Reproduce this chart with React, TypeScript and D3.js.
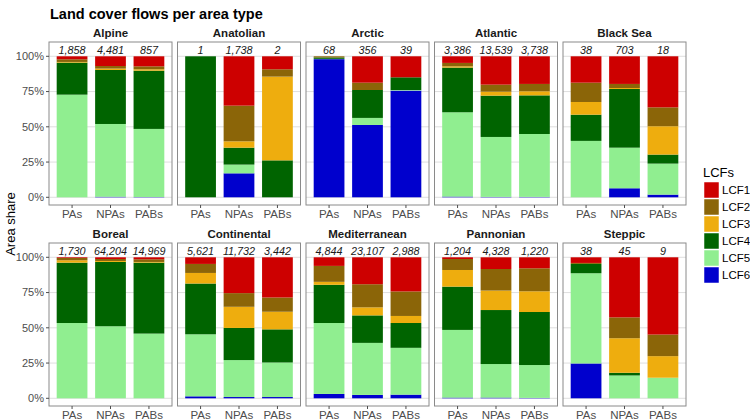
import React from "react";
import * as d3 from "d3";

const regions = ["Alpine", "Anatolian", "Arctic", "Atlantic", "Black Sea", "Boreal", "Continental", "Mediterranean", "Pannonian", "Steppic"];
const areaTypes = ["PAs", "NPAs", "PABs"];
const counts = [
  [1858, 4481, 857], [1, 1738, 2], [68, 356, 39], [3386, 13539, 3738], [38, 703, 18],
  [1730, 64204, 14969], [5621, 11732, 3442], [4844, 23107, 2988], [1204, 4328, 1220], [38, 45, 9],
];
const lcfNames = ["LCF1", "LCF2", "LCF3", "LCF4", "LCF5", "LCF6"];
const lcfColors = ["#CD0000", "#8B6508", "#EEAD0E", "#006400", "#90EE90", "#0000CD"];

// shares in percent, per region: [PAs, NPAs, PABs]
const lcf1 = [[2.1, 6.9, 7.1], [0, 35, 9.2], [0, 18.7, 14.9], [4.7, 20.1, 19.6], [18.7, 19.6, 36.2], [0.5, 1.2, 1.4], [4.7, 25.4, 28.5], [6.1, 19.1, 24.2], [1.2, 8.3, 7.8], [4.0, 42.6, 54.8]];
const lcf2 = [[1.9, 1.8, 2.1], [0, 25.3, 5.2], [0.8, 5.2, 0], [2.4, 5.0, 5.2], [13.7, 2.9, 13.4], [1.6, 1.4, 1.9], [6.4, 9.7, 10.1], [11.3, 16.4, 17.4], [7.8, 15.3, 16.3], [0.7, 14.8, 15.3]];
const lcf3 = [[0.5, 1.0, 1.0], [0, 4.5, 59.4], [0, 0, 0], [0.9, 2.8, 2.9], [9.0, 0.7, 20.1], [1.7, 0.7, 0.5], [7.5, 15.0, 12.5], [2.1, 5.7, 5.0], [11.8, 13.8, 14.7], [0, 24.5, 15.3]];
const lcf4 = [[22.7, 38.3, 41.3], [100, 12, 26.2], [1.0, 19.8, 9.0], [31.7, 29.3, 27.4], [18.6, 41.6, 6.4], [42.8, 45.6, 50.3], [36.0, 22.8, 23.5], [27.1, 19.5, 17.6], [30.7, 38.3, 37.6], [6.6, 1.9, 0]];
const lcf5 = [[72.8, 51.6, 48.3], [0, 6.2, 0], [0.2, 5.0, 0.4], [59.8, 42.5, 44.6], [40, 28.8, 22.0], [53.4, 51.1, 45.9], [44.0, 26.2, 24.5], [50.3, 36.9, 33.2], [48.0, 23.8, 23.3], [64.0, 16.2, 14.6]];
const lcf6 = [[0, 0.4, 0.2], [0, 17, 0], [98, 51.3, 75.7], [0.5, 0.3, 0.3], [0, 6.4, 1.9], [0, 0, 0], [1.4, 0.9, 0.9], [3.1, 2.4, 2.6], [0.5, 0.5, 0.3], [24.7, 0, 0]];
const yTicks = [0, 0.25, 0.5, 0.75, 1];

const series = [lcf1, lcf2, lcf3, lcf4, lcf5, lcf6];

const W = 750, H = 420;
const panelW = 123, panelH = 163;
const panelLeft0 = 49, colStep = 128.5;
const rowTops = [42, 243];
const font = "Liberation Sans, Arial, Helvetica, sans-serif";

export default function App() {
  const x = d3.scaleBand<string>().domain(areaTypes).range([0, panelW]).paddingInner(0.2).paddingOuter(0.2);
  const y = d3.scaleLinear().domain([0, 1]).range([panelH - 7.7, 14.3]);
  const stackKeys = [...lcfNames].reverse(); // LCF6 at the bottom
  const stack = d3.stack<any>().keys(stackKeys);
  const fmt = d3.format(",");
  const pct = d3.format(".0%");
  const colorOf = d3.scaleOrdinal<string, string>().domain(lcfNames).range(lcfColors);

  return (
    <svg width={W} height={H} style={{ display: "block", position: "absolute", left: 0, top: 0 }} fontFamily={font}>
      <rect width={W} height={H} fill="#fff" />
      <text x={50} y={19} fontSize={14.5} fontWeight="bold" fill="#000">Land cover flows per area type</text>
      <text transform={`translate(15,224) rotate(-90)`} textAnchor="middle" fontSize={13} fill="#000">Area share</text>
      {regions.map((reg, ri) => {
        const row = Math.floor(ri / 5), col = ri % 5;
        const px = panelLeft0 + col * colStep, py = rowTops[row];
        const rows = areaTypes.map((t, ti) => {
          const o: any = { type: t };
          lcfNames.forEach((k, ki) => { o[k] = series[ki][ri][ti] / 100; });
          return o;
        });
        const stacked = stack(rows);
        return (
          <g key={reg} transform={`translate(${px},${py})`}>
            <text x={panelW / 2} y={-5} textAnchor="middle" fontSize={11.5} fontWeight="bold" fill="#1a1a1a">{reg}</text>
            {yTicks.map((t) => (
              <line key={t} x1={0} x2={panelW} y1={y(t)} y2={y(t)} stroke="#d6d6d6" strokeWidth={0.8} />
            ))}
            {stacked.map((s) => (
              <g key={s.key} fill={colorOf(s.key)}>
                {s.map((d, i) => {
                  const h = y(d[0]) - y(d[1]);
                  if (h <= 0) return null;
                  return <rect key={i} x={x(areaTypes[i])} width={x.bandwidth()} y={y(d[1])} height={h} />;
                })}
              </g>
            ))}
            {areaTypes.map((t, ti) => (
              <text key={t} x={(x(t) ?? 0) + x.bandwidth() / 2} y={12} textAnchor="middle" fontSize={10.8} fontStyle="italic" fill="#1a1a1a">{fmt(counts[ri][ti])}</text>
            ))}
            <rect x={0} y={0} width={panelW} height={panelH} fill="none" stroke="#8a8a8a" strokeWidth={1} />
            {areaTypes.map((t) => {
              const cx = (x(t) ?? 0) + x.bandwidth() / 2;
              return (
                <g key={t}>
                  <line x1={cx} x2={cx} y1={panelH} y2={panelH + 3} stroke="#4d4d4d" />
                  <text x={cx} y={panelH + 12.5} textAnchor="middle" fontSize={11.5} fill="#4d4d4d">{t}</text>
                </g>
              );
            })}
            {col === 0 && yTicks.map((t) => (
              <g key={t}>
                <line x1={-3} x2={0} y1={y(t)} y2={y(t)} stroke="#4d4d4d" />
                <text x={-5} y={y(t)} dy="0.35em" textAnchor="end" fontSize={11} fill="#4d4d4d">{pct(t)}</text>
              </g>
            ))}
          </g>
        );
      })}
      <g transform="translate(703,0)">
        <text x={0} y={177} fontSize={13} fill="#000">LCFs</text>
        {lcfNames.map((k, i) => (
          <g key={k} transform={`translate(0,${182 + i * 17})`}>
            <rect x={1} y={0} width={15} height={16} fill={colorOf(k)} stroke="#fff" strokeWidth={0.5} />
            <text x={19} y={8} dy="0.35em" fontSize={11.5} fill="#000">{k}</text>
          </g>
        ))}
      </g>
    </svg>
  );
}
